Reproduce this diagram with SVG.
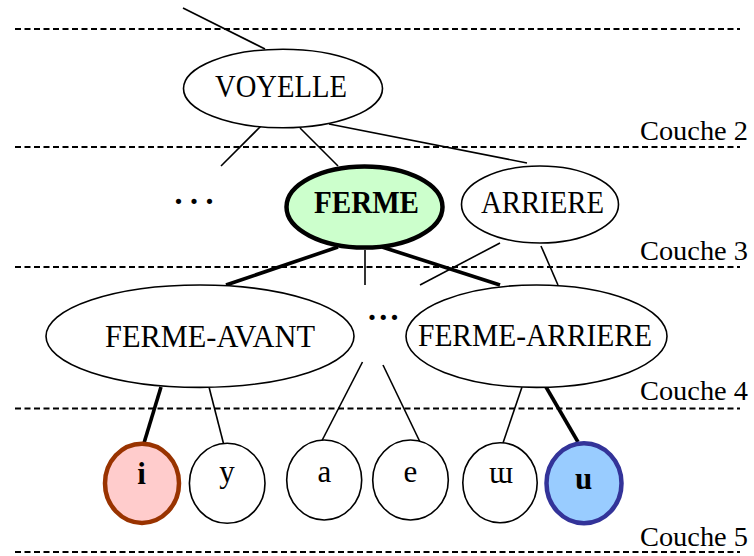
<svg xmlns="http://www.w3.org/2000/svg" width="754" height="556" viewBox="0 0 754 556">
<style>
text{font-family:"Liberation Serif","Times New Roman",serif;font-size:32px;fill:#000}
.c{text-anchor:middle}
.b{font-weight:bold}
.l{font-size:27.5px}
.v{font-size:31px}
.dash{stroke:#000;stroke-width:2;stroke-dasharray:6 3.5;fill:none}
.n{fill:#fff;stroke:#000;stroke-width:1.6}
.e{stroke:#000;stroke-width:1.6;fill:none}
.t{stroke:#000;stroke-width:3.6;fill:none}
</style>
<rect width="754" height="556" fill="#fff"/>
<g id="layers">
<line class="dash" x1="15" y1="29" x2="740" y2="29"/>
<line class="dash" x1="15" y1="147" x2="740" y2="147"/>
<line class="dash" x1="15" y1="267" x2="740" y2="267"/>
<line class="dash" x1="15" y1="408.5" x2="740" y2="408.5"/>
<line class="dash" x1="15" y1="552" x2="740" y2="552"/>
<text class="l" x="640" y="139.5" textLength="108" lengthAdjust="spacingAndGlyphs">Couche 2</text>
<text class="l" x="640" y="259.5" textLength="108" lengthAdjust="spacingAndGlyphs">Couche 3</text>
<text class="l" x="640" y="399.5" textLength="108" lengthAdjust="spacingAndGlyphs">Couche 4</text>
<text class="l" x="640" y="546" textLength="108" lengthAdjust="spacingAndGlyphs">Couche 5</text>
</g>
<g id="connectors">
<line class="e" x1="183" y1="8" x2="265" y2="49"/>
<line class="e" x1="261" y1="126" x2="221" y2="166"/>
<line class="e" x1="300" y1="128" x2="338" y2="166"/>
<line class="e" x1="329" y1="124" x2="527" y2="163"/>
<line class="t" x1="338" y1="247" x2="226" y2="285"/>
<line class="e" x1="365" y1="250" x2="365" y2="285"/>
<line class="t" x1="382" y1="247" x2="500" y2="285"/>
<line class="e" x1="500" y1="243" x2="420" y2="285"/>
<line class="e" x1="541" y1="246" x2="558" y2="285"/>
<line class="t" x1="161" y1="387" x2="144" y2="443"/>
<line class="e" x1="209" y1="387" x2="223.5" y2="443.5"/>
<line class="e" x1="362.5" y1="362" x2="322" y2="440.5"/>
<line class="e" x1="383" y1="365" x2="420.5" y2="443"/>
<line class="e" x1="522" y1="387" x2="503" y2="443"/>
<line class="t" x1="546" y1="387" x2="578" y2="442"/>
</g>
<g id="dots-2"><text class="b" x="174.5" y="204" font-size="29" letter-spacing="7.5">...</text></g>
<g id="dots-4"><text class="b" x="368" y="320" font-size="29" letter-spacing="3.2">...</text></g>
<g id="voyelle">
<ellipse class="n" cx="283" cy="88.5" rx="99.5" ry="39.3"/>
<text class="c" x="281" y="96.5" textLength="132" lengthAdjust="spacingAndGlyphs">VOYELLE</text>
</g>
<g id="ferme">
<ellipse cx="364.5" cy="207" rx="78" ry="40.5" fill="#ccffcc" stroke="#000" stroke-width="4.5"/>
<text class="c b" x="366.5" y="212.5" textLength="105" lengthAdjust="spacingAndGlyphs">FERME</text>
</g>
<g id="arriere">
<ellipse class="n" cx="540" cy="204.5" rx="78.5" ry="38.5"/>
<text class="c" x="542.5" y="212.5" textLength="123" lengthAdjust="spacingAndGlyphs">ARRIERE</text>
</g>
<g id="ferme-avant">
<ellipse class="n" cx="200" cy="336.2" rx="154" ry="51.2"/>
<text class="c" x="210" y="346.5" textLength="210" lengthAdjust="spacingAndGlyphs">FERME-AVANT</text>
</g>
<g id="ferme-arriere">
<ellipse class="n" cx="536.5" cy="336.2" rx="130.5" ry="51.2"/>
<text class="c" x="535" y="345.5" textLength="234" lengthAdjust="spacingAndGlyphs">FERME-ARRIERE</text>
</g>
<g id="v-i">
<ellipse cx="142" cy="483.3" rx="37" ry="39.6" fill="#ffcccc" stroke="#993300" stroke-width="4.5"/>
<text class="c b v" x="141.5" y="484">i</text>
</g>
<g id="v-y">
<ellipse class="n" cx="227.2" cy="483.3" rx="37.8" ry="40"/>
<text class="c v" x="227" y="482">y</text>
</g>
<g id="v-a">
<ellipse class="n" cx="324.2" cy="480" rx="37.5" ry="40"/>
<text class="c v" x="324.3" y="481.5">a</text>
</g>
<g id="v-e">
<ellipse class="n" cx="410.5" cy="480" rx="37.8" ry="40"/>
<text class="c v" x="410.3" y="481.5">e</text>
</g>
<g id="v-unrounded">
<ellipse class="n" cx="500" cy="482.7" rx="37.2" ry="40"/>
<text class="c v" x="501" y="483">ɯ</text>
</g>
<g id="v-u">
<ellipse cx="584" cy="483.3" rx="37.5" ry="40" fill="#99ccff" stroke="#333399" stroke-width="4.5"/>
<text class="c b v" x="583.5" y="489">u</text>
</g>
</svg>
